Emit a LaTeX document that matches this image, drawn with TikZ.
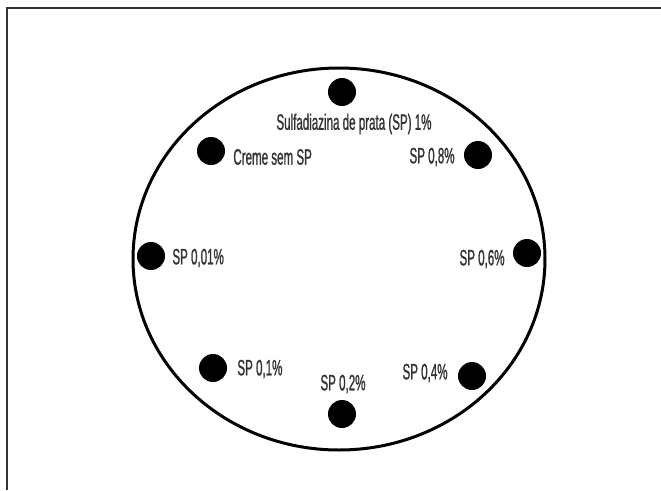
\documentclass[tikz,border=0pt]{standalone}
\usepackage{fontspec}
\setmainfont{Liberation Sans}[FakeStretch=0.52, FakeBold=1]
\usepackage{tikz}
\usetikzlibrary{positioning}
\newlength{\pxu}
\setlength{\pxu}{0.03cm}
\tikzset{
  platedot/.style={circle, fill=black, inner sep=0pt, minimum size=28\pxu},
  platelabel/.style={font=\fontsize{19}{21}\selectfont, inner sep=1pt, text=black!80},
}

\begin{document}
\begin{tikzpicture}[x=0.03cm, y=-0.03cm]
  \useasboundingbox (0,0) rectangle (661,490);
  % moldura
  \draw[line width=2\pxu, black!80] (7,490) -- (7,8) -- (661,8);
  % placa
  \draw[line width=3\pxu] (339,259) ellipse (206 and 191);
  % pocos
  \node[platedot] (sp1)   at (342,92)  {};
  \node[platedot] (creme) at (211,151) {};
  \node[platedot] (sp08)  at (478,155) {};
  \node[platedot] (sp001) at (151,256) {};
  \node[platedot] (sp06)  at (527,253) {};
  \node[platedot] (sp01)  at (213,368) {};
  \node[platedot] (sp02)  at (342,414) {};
  \node[platedot] (sp04)  at (472,376) {};
  % rotulos
  \node[platelabel] (lsp1)   at (354,124) {Sulfadiazina de prata (SP) 1\%};
  \node[platelabel, anchor=west] (lcreme) at (232,157) {Creme sem SP};
  \node[platelabel, anchor=east] (lsp08)  at (456,157) {SP 0,8\%};
  \node[platelabel, anchor=west] (lsp001) at (171,258) {SP 0,01\%};
  \node[platelabel, anchor=east] (lsp06)  at (506,259) {SP 0,6\%};
  \node[platelabel, anchor=west] (lsp01)  at (236,369) {SP 0,1\%};
  \node[platelabel] (lsp02)  at (343,384) {SP 0,2\%};
  \node[platelabel, anchor=east] (lsp04)  at (449,373) {SP 0,4\%};
\end{tikzpicture}
\end{document}
